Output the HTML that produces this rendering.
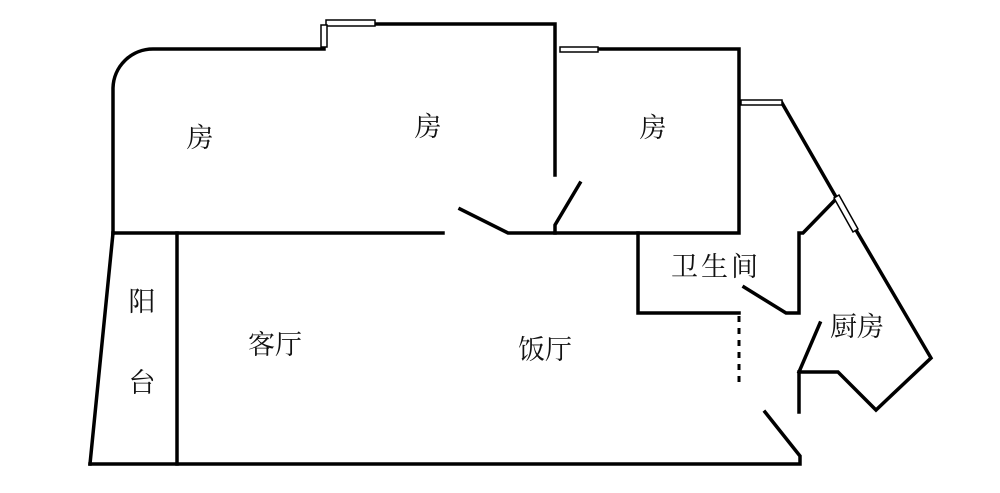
<!DOCTYPE html>
<html><head><meta charset="utf-8"><style>
body{margin:0;background:#fff;}
svg{display:block}
text{font-family:"Liberation Serif","Noto Serif CJK SC",serif;font-size:27px;fill:#111;text-anchor:middle;dominant-baseline:central}
</style></head><body>
<svg width="1000" height="493" viewBox="0 0 1000 493">
<g fill="none" stroke="#000" stroke-width="3.5" stroke-linecap="square">
<path d="M113,233 L113,88 A40,40 0 0 1 153,49 L324,49"/>
<path d="M375,24 L555,24 L555,175"/>
<path d="M113,233 L443,233"/>
<path d="M460,209 L508,233 L555,233 L555,225 L580,183"/>
<path d="M598,49 L739,49 L739,233 L555,233"/>
<path d="M782,103 L836,197"/>
<path d="M856,230 L931,358 L876,410 L838,372 L799,372 L799,412"/>
<path d="M820,323 L799,372"/>
<path d="M836,199 L803,233 L799,233 L799,313 L786,313 L744,287"/>
<path d="M638,233 L638,313 L739,313"/>
<path d="M90,464 L800,464 L800,456 L765,412"/>
<path d="M113,233 L90,464"/>
<path d="M177,233 L177,464"/>
</g>
<path d="M739,316 L739,383" stroke="#000" stroke-width="3" stroke-dasharray="6,6" fill="none"/>
<g fill="#fff" stroke="#000" stroke-width="1.5">
<rect x="326" y="20" width="49" height="6"/>
<rect x="321" y="25" width="6" height="22"/>
<rect x="560" y="47" width="38" height="5"/>
<rect x="741" y="100" width="41" height="5"/>
<path d="M834,198 L839,195 L858,229 L853,232 Z"/>
</g>
<text x="200" y="138">房</text>
<text x="428" y="127">房</text>
<text x="653" y="128">房</text>
<text x="716" y="267" letter-spacing="3">卫生间</text>
<text x="857" y="327">厨房</text>
<text x="275" y="345">客厅</text>
<text x="545" y="350">饭厅</text>
<text x="142" y="302">阳</text>
<text x="142" y="383">台</text>
</svg>
</body></html>
